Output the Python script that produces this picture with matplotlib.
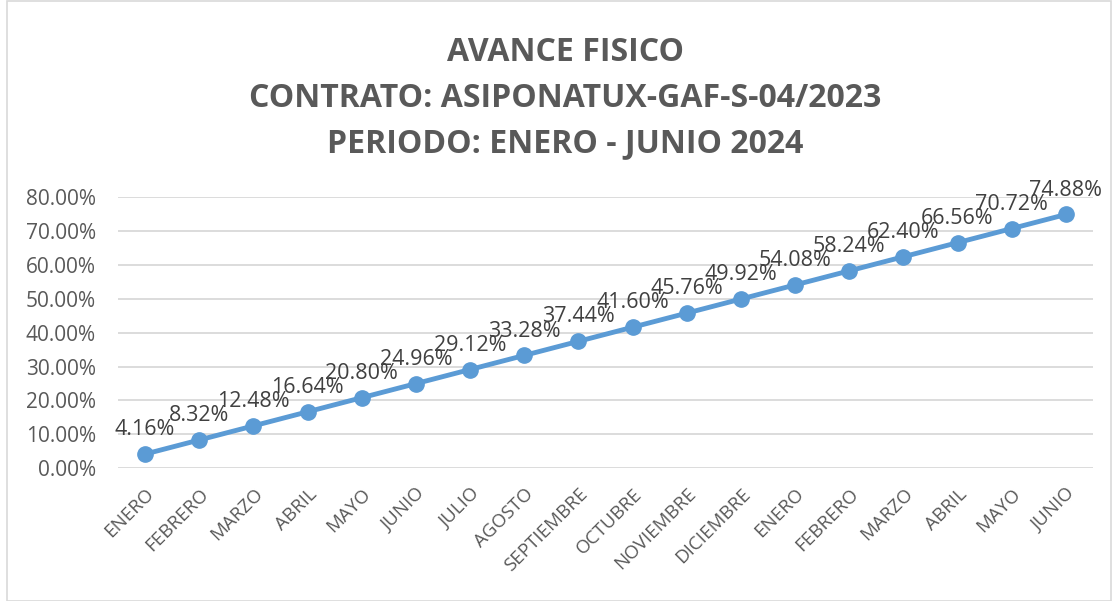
import matplotlib.pyplot as plt
from matplotlib.patches import Rectangle

#data
months = ['ENERO', 'FEBRERO', 'MARZO', 'ABRIL', 'MAYO', 'JUNIO', 'JULIO', 'AGOSTO',
          'SEPTIEMBRE', 'OCTUBRE', 'NOVIEMBRE', 'DICIEMBRE',
          'ENERO', 'FEBRERO', 'MARZO', 'ABRIL', 'MAYO', 'JUNIO']
avance = [4.16, 8.32, 12.48, 16.64, 20.80, 24.96, 29.12, 33.28, 37.44, 41.60,
          45.76, 49.92, 54.08, 58.24, 62.40, 66.56, 70.72, 74.88]
yticks = [0, 10, 20, 30, 40, 50, 60, 70, 80]

title = 'AVANCE FISICO\nCONTRATO: ASIPONATUX-GAF-S-04/2023\nPERIODO: ENERO - JUNIO 2024'

plt.rcParams['font.family'] = ['Open Sans', 'DejaVu Sans']
grey = '#595959'
blue = '#5B9BD5'

fig = plt.figure(figsize=(11.13, 6.01), dpi=100)
ax = fig.add_axes([0.106, 0.221, 0.876, 0.451])

x = list(range(len(months)))
ax.plot(x, avance, color=blue, linewidth=3.5, marker='o', markersize=11, zorder=3)

#data labels above each point
for i, v in enumerate(avance):
    ax.annotate('{:.2f}%'.format(v), (i, v), xytext=(0, 10), textcoords='offset points',
                ha='center', va='bottom', fontsize=15.5, color='#404040', zorder=4)

ax.set_xlim(-0.5, len(months) - 0.5)
ax.set_ylim(0, 80)
ax.set_yticks(yticks)
ax.set_yticklabels(['{:.2f}%'.format(t) for t in yticks], fontsize=15, color=grey)
ax.set_xticks(x)
ax.set_xticklabels(months, rotation=45, ha='right', rotation_mode='anchor',
                   fontsize=13.5, color=grey)
ax.tick_params(axis='y', length=0, pad=16)
ax.tick_params(axis='x', length=0, pad=12)
ax.grid(axis='y', color='#D9D9D9', linewidth=1.3)
ax.set_axisbelow(True)
for s in ax.spines.values():
    s.set_visible(False)

fig.text(0.508, 0.94, title, ha='center', va='top', fontsize=23, fontweight='bold',
         color=grey, linespacing=1.5)

#chart border
fig.patches.append(Rectangle((0.006, 0.0), 0.992, 0.998, transform=fig.transFigure,
                             fill=False, edgecolor='#D9D9D9', linewidth=1.2))

plt.savefig('out.png', dpi=100)
